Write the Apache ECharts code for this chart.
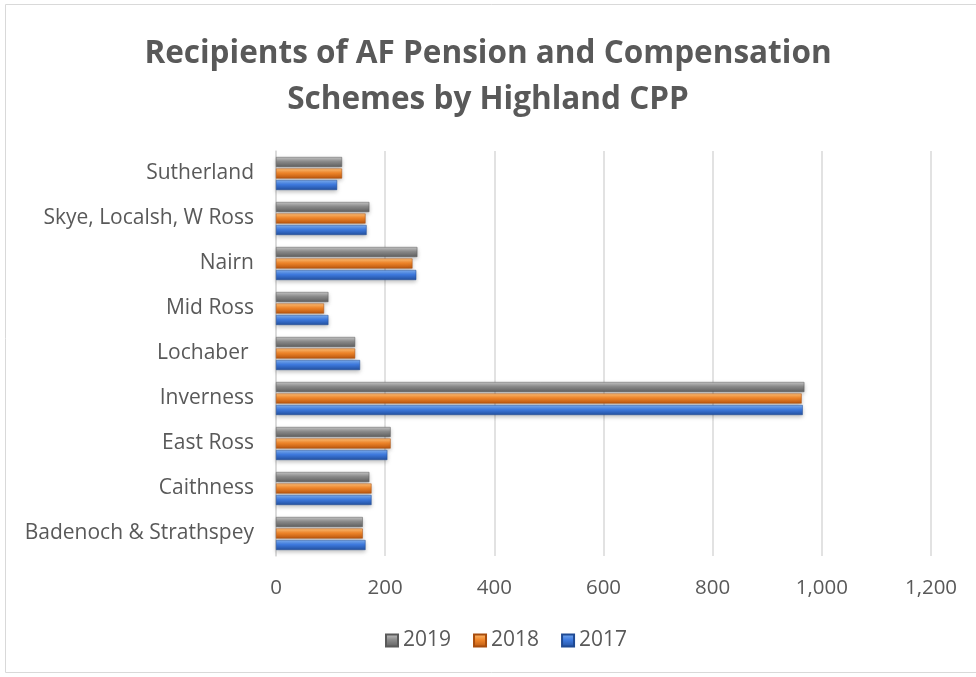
<!DOCTYPE html>
<html>
<head>
<meta charset="utf-8">
<script src="https://cdn.jsdelivr.net/npm/echarts@6/dist/echarts.min.js"></script>
<style>
  html, body { margin: 0; padding: 0; background: #fff; }
  #main { width: 976px; height: 677px; }
</style>
</head>
<body>
<div id="main"></div>
<script>
var categories = ['Badenoch & Strathspey', 'Caithness', 'East Ross', 'Inverness', 'Lochaber ',
    'Mid Ross', 'Nairn', 'Skye, Localsh, W Ross', 'Sutherland'];
var values2017 = [164, 175, 204, 965, 154, 96, 257, 166, 112];
var values2018 = [159, 175, 210, 963, 145, 88, 250, 164, 121];
var values2019 = [159, 171, 210, 968, 145, 96, 259, 171, 121];
var xTicks = [0, 200, 400, 600, 800, 1000, 1200];

var chart = echarts.init(document.getElementById('main'));
var font = 'Open Sans';

function grad(top, mid, bottom) {
    return new echarts.graphic.LinearGradient(0, 0, 0, 1, [
        { offset: 0, color: top },
        { offset: 0.45, color: mid },
        { offset: 1, color: bottom }
    ]);
}

var greyFill = grad('#c8c8c8', '#8c8c8c', '#5e5e5e');
var orangeFill = grad('#ffc27a', '#f0862a', '#b85610');
var blueFill = grad('#7fb0f0', '#3f7be0', '#23509e');

function barSeries(name, data, fill, edge) {
    return {
        name: name,
        type: 'bar',
        data: data,
        barWidth: 10,
        barGap: '15%',
        itemStyle: {
            color: fill,
            borderColor: edge,
            borderWidth: 0.5,
            shadowColor: 'rgba(0,0,0,0.25)',
            shadowBlur: 4,
            shadowOffsetY: 2
        }
    };
}

option = {
    animation: false,
    textStyle: { fontFamily: font },
    title: {
        text: 'Recipients of AF Pension and Compensation\nSchemes by Highland CPP',
        left: 'center',
        top: 26,
        textStyle: {
            fontFamily: font,
            fontWeight: 'bold',
            fontSize: 31.5,
            lineHeight: 46,
            color: '#595959'
        }
    },
    graphic: [{
        type: 'rect',
        shape: { x: 5.5, y: 4.5, width: 1000, height: 668 },
        style: { fill: 'none', stroke: '#d9d9d9', lineWidth: 1 },
        silent: true
    }],
    legend: {
        data: ['2019', '2018', '2017'],
        bottom: 21,
        left: 380,
        icon: 'rect',
        itemWidth: 12,
        itemHeight: 12,
        itemGap: 22,
        textStyle: { fontSize: 21, color: '#595959', fontFamily: font }
    },
    grid: {
        left: 276,
        right: 45,
        top: 151,
        bottom: 121,
        containLabel: false
    },
    xAxis: {
        type: 'value',
        min: xTicks[0],
        max: xTicks[xTicks.length - 1],
        interval: 200,
        axisLine: { show: false },
        axisTick: { show: false },
        splitLine: { show: true, lineStyle: { color: '#d9d9d9', width: 1.5 } },
        axisLabel: {
            color: '#595959',
            fontSize: 20.5,
            margin: 22,
            formatter: function (v) { return v.toLocaleString('en-US'); }
        }
    },
    yAxis: {
        type: 'category',
        data: categories,
        axisLine: { show: true, lineStyle: { color: '#d9d9d9', width: 1.5 } },
        axisTick: { show: false },
        axisLabel: { color: '#595959', fontSize: 21, margin: 22 }
    },
    series: [
        barSeries('2019', values2019, greyFill, '#5a5a5a'),
        barSeries('2018', values2018, orangeFill, '#a84c0c'),
        barSeries('2017', values2017, blueFill, '#1f4a94')
    ]
};

chart.setOption(option);
</script>
</body>
</html>
